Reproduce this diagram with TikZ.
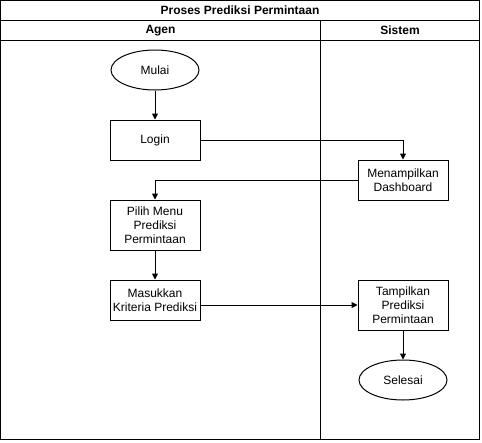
\documentclass[tikz,border=0pt]{standalone}
\usepackage{fontspec}
\setmainfont{Liberation Sans}
\usetikzlibrary{shapes.geometric,arrows.meta}

\tikzset{
  langkah/.style={draw, line width=1pt, minimum width=90pt, minimum height=40pt, align=center, inner sep=2pt, font=\fontsize{12}{14}\selectfont},
  terminal/.style={draw, ellipse, line width=1pt, minimum width=88pt, minimum height=40pt, font=\fontsize{12}{14}\selectfont},
  panah/.style={-{Triangle[width=6pt,length=6pt]}, line width=1pt},
  kepala/.style={font=\bfseries\fontsize{12}{14}\selectfont}
}

\begin{document}
\begin{tikzpicture}[x=1pt, y=-1pt]
                \useasboundingbox (0,0) rectangle (482,442);
                % kerangka swimlane
                \draw[line width=1pt] (0.5,0.5) rectangle (479.5,439.5);
                \draw[line width=1pt] (0.5,20.5) -- (479.5,20.5);
                \draw[line width=1pt] (0.5,40.5) -- (479.5,40.5);
                \draw[line width=1pt] (320.5,20.5) -- (320.5,439.5);
                \node[kepala] (judul) at (240,10.5) {Proses Prediksi Permintaan};
                \node[kepala] (agen) at (160.5,30.5) {Agen};
                \node[kepala] (sistem) at (400,30.5) {Sistem};

                \node[terminal] (mulai) at (155,70) {Mulai};
                \node[langkah] (login) at (155,140) {Login};
                \node[langkah, minimum height=40pt] (dashboard) at (403,180) {Menampilkan\\Dashboard};
                \node[langkah, minimum height=50pt] (pilih) at (155,225) {Pilih Menu\\Prediksi\\Permintaan};
                \node[langkah] (masukkan) at (155,300) {Masukkan\\Kriteria Prediksi};
                \node[langkah, minimum height=50pt] (tampil) at (403,305) {Tampilkan\\Prediksi\\Permintaan};
                \node[terminal] (selesai) at (403,380) {Selesai};

                \draw[panah] (mulai) -- (login);
                \draw[panah] (login.east) -| (dashboard.north);
                \draw[panah] (dashboard.west) -| (pilih.north);
                \draw[panah] (pilih) -- (masukkan);
                \draw[panah] (masukkan.east |- tampil.west) -- (tampil.west);
                \draw[panah] (tampil) -- (selesai);

            \end{tikzpicture}
\end{document}
